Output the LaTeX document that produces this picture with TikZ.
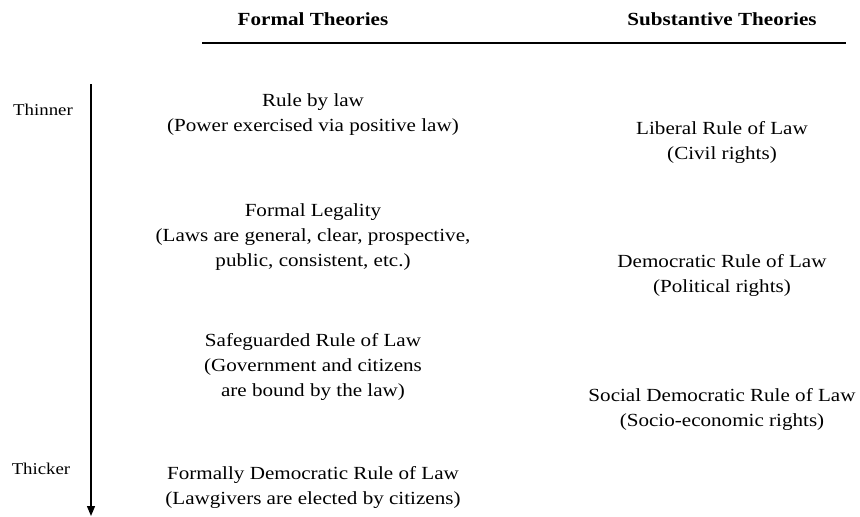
\documentclass[tikz,border=0pt]{standalone}
\usepackage{fontspec}
\setmainfont[FakeStretch=1.14]{Liberation Serif}
\usetikzlibrary{arrows.meta}
\begin{document}
\begin{tikzpicture}[x=1pt,y=-1pt,
  txt/.style={inner sep=0pt, align=center, font=\fontsize{18.5}{25}\selectfont},
  head/.style={inner sep=0pt, font=\fontsize{18.5}{25}\selectfont\bfseries},
  side/.style={inner sep=0pt, font=\fontsize{16.5}{20}\selectfont},
  rulebar/.style={line width=1.4pt},
  axis/.style={line width=1.3pt, -{Triangle[length=10pt,width=8pt]}}]
\useasboundingbox (0,0) rectangle (860,517);

% column headings and the rule beneath them
\node[head] (hf) at (313,19) {Formal Theories};
\node[head] (hs) at (722,19) {Substantive Theories};
\coordinate (rl) at (202,43);
\coordinate (rr) at (846,43);
\draw[rulebar] (rl) -- (rr);

% thin-to-thick axis
\coordinate (atop) at (91,84);
\coordinate (abot) at (91,516);
\draw[axis] (atop) -- (abot);
\node[side] (thin) at (43,110) {Thinner};
\node[side] (thick) at (41,469) {Thicker};

% formal theories
\node[txt] (f1) at (313,114.5) {Rule by law\\(Power exercised via positive law)};
\node[txt] (f2) at (313,237) {Formal Legality\\(Laws are general, clear, prospective,\\public, consistent, etc.)};
\node[txt] (f3) at (313,367) {Safeguarded Rule of Law\\(Government and citizens\\are bound by the law)};
\node[txt] (f4) at (313,487.5) {Formally Democratic Rule of Law\\(Lawgivers are elected by citizens)};

% substantive theories
\node[txt] (s1) at (722,142.5) {Liberal Rule of Law\\(Civil rights)};
\node[txt] (s2) at (722,275.5) {Democratic Rule of Law\\(Political rights)};
\node[txt] (s3) at (722,409.5) {Social Democratic Rule of Law\\(Socio-economic rights)};
\end{tikzpicture}
\end{document}
